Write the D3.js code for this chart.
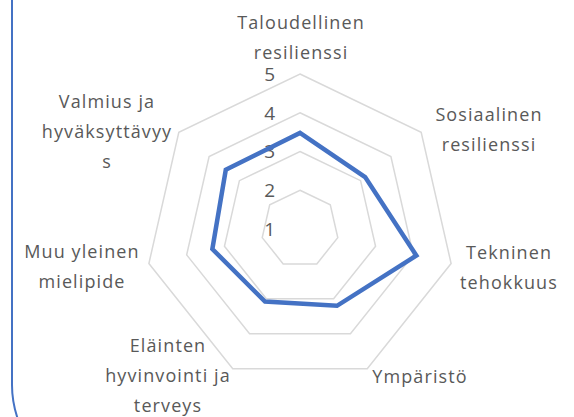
<!DOCTYPE html>
<html>
<head>
<meta charset="utf-8">
<script src="https://cdn.jsdelivr.net/npm/d3@7"></script>
<style>
  html, body { margin: 0; padding: 0; background: #fff; }
  svg text { font-family: "Open Sans", sans-serif; fill: #595959; }
</style>
</head>
<body>
<svg id="radar" width="574" height="417"></svg>
<script>
// data
var categories = ["Taloudellinen resilienssi", "Sosiaalinen resilienssi", "Tekninen tehokkuus",
                  "Ympäristö", "Eläinten hyvinvointi ja terveys", "Muu yleinen mielipide",
                  "Valmius ja hyväksyttävyys"];
// wrapped like in the original
var labelLines = [["Taloudellinen", "resilienssi"], ["Sosiaalinen", "resilienssi"], ["Tekninen", "tehokkuus"],
                  ["Ympäristö"], ["Eläinten", "hyvinvointi ja", "terveys"], ["Muu yleinen", "mielipide"],
                  ["Valmius ja", "hyväksyttävyy", "s"]];
var values = [3.48, 3.15, 4.08, 3.2, 3.08, 3.32, 3.45];
var ticks = [1, 2, 3, 4, 5];

var cx = 300, cy = 229, R = 155;
var svg = d3.select("#radar");

// left part of the blue frame
svg.append("path")
    .attr("d", "M12,-5 L12,385 Q12,405 20,425")
    .attr("fill", "none")
    .attr("stroke", "#4472c4")
    .attr("stroke-width", 2);

var g = svg.append("g").attr("transform", "translate(" + cx + "," + cy + ")");

var r = d3.scaleLinear().domain([1, 5]).range([0, R]);
var angle = d3.scaleLinear().domain([0, categories.length]).range([0, 2 * Math.PI]);

var radial = d3.lineRadial()
    .angle(function(d, i) { return angle(i); })
    .curve(d3.curveLinearClosed);

// grid heptagons
g.selectAll(".grid")
    .data(ticks.slice(1))
    .enter()
    .append("path")
    .attr("class", "grid")
    .attr("d", function(t) { return radial.radius(function() { return r(t); })(categories); })
    .attr("fill", "none")
    .attr("stroke", "#d9d9d9")
    .attr("stroke-width", 1.5);

// tick labels
g.selectAll(".tick")
    .data(ticks)
    .enter()
    .append("text")
    .attr("class", "tick")
    .attr("x", -25)
    .attr("y", function(t) { return -r(t); })
    .attr("dy", "0.36em")
    .attr("text-anchor", "end")
    .style("font-size", "19px")
    .text(function(t) { return t; });

// series
g.append("path")
    .attr("d", radial.radius(function(d) { return r(d); })(values))
    .attr("fill", "none")
    .attr("stroke", "#4472c4")
    .attr("stroke-width", 4.5)
    .attr("stroke-linejoin", "miter");

// category labels (position tuned per label, roughly like excel puts them)
var labelPos = [[301, 29], [489, 121], [509, 259], [420, 383], [168, 352], [82, 258], [107, 108]];
var lineH = 30;
svg.selectAll(".cat")
    .data(labelLines)
    .enter()
    .append("text")
    .attr("class", "cat")
    .attr("text-anchor", "middle")
    .style("font-size", "18px")
    .style("letter-spacing", "1.1px")
    .each(function(lines, i) {
        var t = d3.select(this);
        lines.forEach(function(l, j) {
            t.append("tspan")
                .attr("x", labelPos[i][0])
                .attr("y", labelPos[i][1] + j * lineH)
                .text(l);
        });
    });
</script>
</body>
</html>
